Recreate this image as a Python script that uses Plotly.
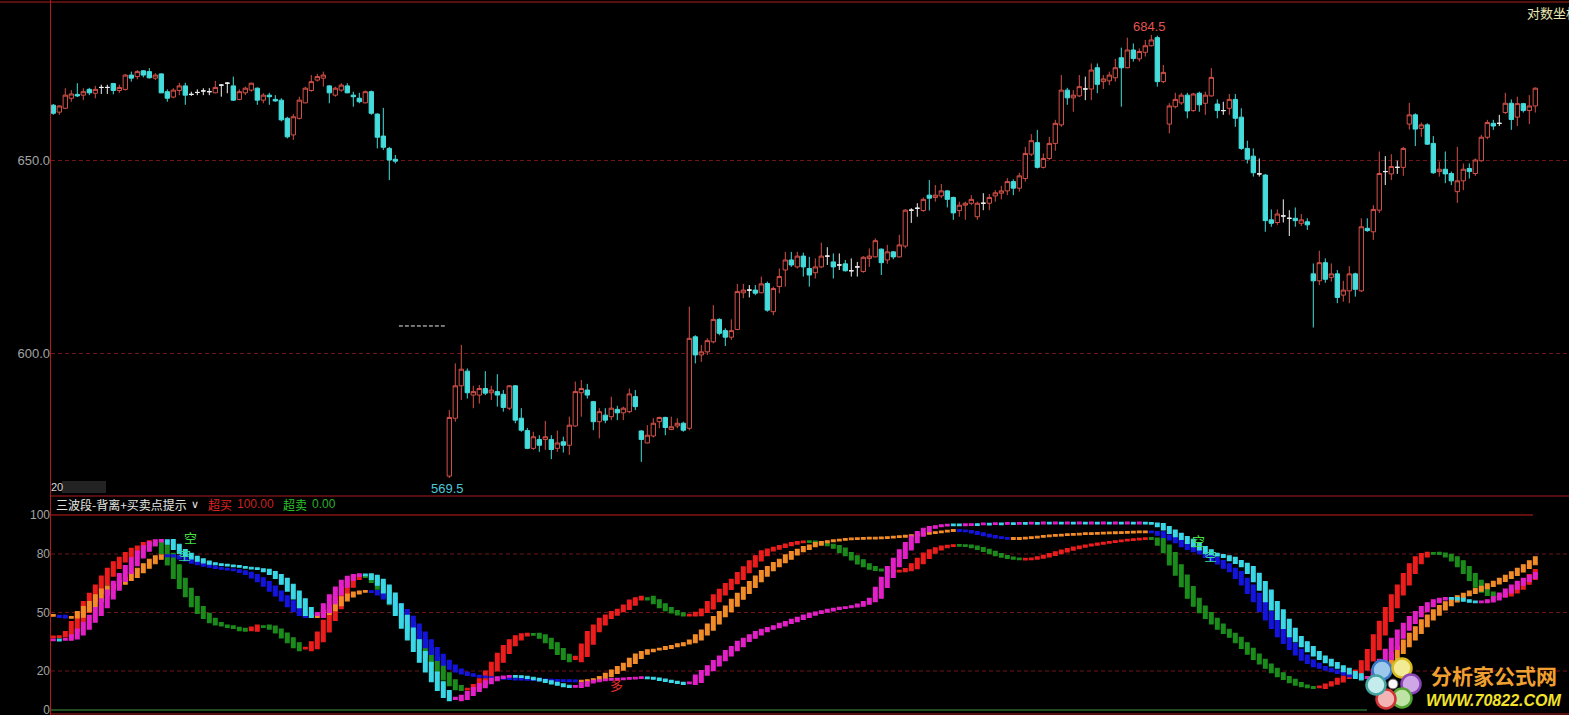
import plotly.graph_objects as go

W, H = 1569, 715
ML = 51
PW = W - ML

# ---------------- data ----------------
OPEN = [664.2,662.4,663.4,666.0,667.0,666.8,668.3,667.3,668.8,668.8,
669.8,668.0,668.3,672.0,671.6,673.1,672.9,671.2,672.3,667.7,
666.3,668.0,669.2,667.0,667.5,667.9,667.7,667.4,669.4,669.9,
669.2,665.7,667.4,668.1,668.6,665.5,666.8,665.7,665.5,660.8,
656.5,660.8,664.8,668.0,670.7,671.2,669.2,666.8,668.1,669.2,
666.8,666.0,664.8,667.7,661.9,656.2,653.0,650.2,
None,None,None,None,None,None,None,None,
568.1,583.1,591.5,595.3,
589.1,589.1,590.8,589.7,590.0,589.3,585.7,591.5,583.1,579.9,
575.3,577.6,577.6,577.6,575.3,577.0,576.1,581.1,589.7,590.4,
587.4,582.2,583.9,583.5,585.4,584.5,584.8,588.7,579.8,576.7,
578.5,582.2,583.3,580.2,581.1,581.8,580.5,604.2,599.5,600.3,
602.9,608.7,605.8,604.1,606.1,615.6,616.3,616.3,615.6,618.0,
610.7,617.2,621.5,624.1,622.3,625.1,621.9,620.8,622.3,625.1,
623.6,622.8,623.1,621.3,622.3,621.1,624.5,624.9,626.9,624.1,
626.2,624.9,627.7,637.0,637.5,636.9,640.9,640.3,640.7,642.0,
640.3,636.9,638.3,638.8,635.3,638.8,638.8,640.7,641.4,642.0,
644.4,642.7,645.2,651.5,654.5,648.1,650.4,654.3,659.1,668.1,
666.1,666.6,668.4,668.4,673.9,670.3,670.5,671.3,676.5,673.9,
678.5,676.2,677.9,679.6,681.7,670.3,659.3,663.8,664.8,666.8,
662.8,667.3,664.7,666.6,664.5,662.8,663.4,665.7,661.1,653.0,
651.0,646.4,646.1,634.5,633.8,635.5,634.9,634.9,633.6,634.0,
620.5,618.7,623.4,619.6,620.5,615.0,616.1,620.5,616.1,632.3,
631.4,637.0,647.0,646.4,648.1,648.1,659.3,661.7,658.2,659.1,
654.3,647.0,647.6,646.5,641.8,644.6,647.8,646.5,649.8,655.9,
659.5,659.5,662.3,664.7,661.1,664.6,662.8,664.0]

HIGH = [664.5,664.2,668.6,668.1,669.9,668.6,668.7,669.2,669.5,669.5,
670.0,669.5,672.3,672.9,673.3,673.3,673.8,672.5,672.5,668.3,
668.6,670.0,670.0,667.7,668.3,668.6,668.6,670.5,669.7,670.2,
671.6,668.3,669.0,670.0,668.8,667.3,667.4,666.8,666.0,661.2,
661.9,666.4,669.0,672.0,672.3,672.9,669.4,669.0,669.9,669.9,
667.7,667.4,668.0,668.0,662.1,663.5,653.4,651.3,
None,None,None,None,None,None,None,None,
585.2,597.3,602.1,596.0,
591.5,591.7,595.3,591.5,594.5,590.4,591.7,591.7,585.7,580.6,
579.6,578.7,582.4,578.7,579.9,578.3,583.5,592.6,593.0,592.0,
587.6,585.7,585.7,588.7,586.3,586.1,590.8,590.4,580.0,581.3,
583.1,583.5,583.5,583.5,583.1,582.2,612.0,604.6,602.1,603.8,
612.4,609.0,606.4,608.7,617.9,617.9,617.6,617.6,619.8,618.5,
617.2,621.9,626.2,626.2,626.2,626.0,624.9,624.5,628.6,627.4,
625.8,625.8,624.1,624.5,623.6,625.1,627.1,629.7,627.1,628.0,
626.4,630.6,637.3,637.5,638.8,640.3,644.8,643.5,643.8,642.2,
640.5,639.2,639.2,640.9,639.2,641.4,641.2,642.2,643.3,645.3,
645.0,646.7,653.4,656.7,657.8,651.7,656.0,660.4,672.0,668.7,
668.1,672.0,671.6,675.0,675.0,672.0,672.9,676.2,679.1,681.7,
680.2,678.9,681.1,682.4,682.2,674.6,664.7,667.4,667.4,667.4,
667.4,667.7,667.7,673.8,665.7,665.1,667.1,667.1,663.4,655.0,
653.0,650.4,646.4,637.2,637.2,639.8,637.0,637.7,636.0,634.9,
623.2,626.5,624.5,623.2,621.5,618.7,622.5,620.8,634.9,634.9,
638.3,652.2,651.0,651.5,649.8,653.4,664.8,662.1,659.7,659.5,
656.2,649.6,652.2,647.0,653.4,649.1,649.1,650.4,656.5,660.4,
660.4,661.7,667.4,665.7,666.4,664.8,666.8,668.8]

LOW = [661.7,661.7,663.2,665.1,666.3,665.5,666.8,666.0,667.1,667.1,
667.0,667.4,668.0,670.3,670.9,671.4,671.1,670.7,667.3,665.1,
666.0,666.8,664.3,666.6,666.8,666.8,666.8,667.3,666.4,667.3,
665.3,665.5,666.8,667.7,664.3,664.7,664.3,665.1,660.0,655.6,
655.2,660.5,664.7,667.7,670.3,669.0,664.7,666.4,667.7,667.3,
663.8,664.7,664.7,661.7,653.0,652.6,644.8,649.1,
None,None,None,None,None,None,None,None,
567.6,582.2,587.8,588.2,
585.7,586.9,589.1,587.8,586.1,584.8,585.2,581.8,579.6,575.1,
574.9,574.4,574.9,572.5,574.4,574.2,573.6,580.9,583.5,588.2,
580.0,577.9,581.8,582.6,582.6,582.6,584.4,585.2,571.8,576.6,
578.1,580.5,578.7,580.0,580.5,579.6,580.0,597.3,597.7,599.5,
602.5,604.6,601.8,603.4,605.9,614.2,614.4,615.0,615.5,610.7,
609.8,615.5,617.2,622.3,621.9,619.8,617.2,619.3,622.0,622.8,
619.3,621.5,621.1,619.8,619.8,620.8,622.3,624.8,620.2,623.1,
624.3,624.8,627.1,633.7,635.3,636.6,636.9,639.2,640.1,637.7,
634.5,635.3,634.5,638.3,634.5,637.0,637.0,639.2,639.8,640.9,
640.9,641.8,644.4,651.0,647.8,647.8,650.0,652.4,658.6,664.3,
662.5,666.3,665.5,665.5,667.3,668.4,669.4,670.3,663.8,673.8,
675.5,675.5,676.8,679.4,669.0,669.9,656.9,663.4,664.3,660.8,
662.5,662.5,661.7,666.4,660.8,661.7,661.7,658.6,652.6,649.1,
645.7,645.7,631.4,632.7,633.2,633.8,630.3,632.7,632.9,631.9,
606.6,617.6,618.2,618.5,612.9,613.3,612.9,614.6,615.8,631.4,
629.3,636.3,643.5,644.8,646.4,645.9,657.9,653.6,656.0,653.9,
646.4,645.7,644.0,643.5,638.9,642.2,645.2,645.9,649.6,655.4,
657.8,658.8,661.9,657.8,658.8,662.3,659.3,662.3]

CLOSE = [662.1,664.0,666.8,667.1,666.6,667.7,667.4,668.3,668.8,668.8,
668.0,668.8,672.0,671.2,672.9,672.0,671.3,672.0,667.4,666.0,
668.1,669.2,666.8,667.0,667.5,667.9,667.7,668.8,669.4,669.9,
665.5,667.7,668.6,669.9,665.5,666.8,666.4,665.3,660.4,656.0,
661.2,665.5,668.6,670.3,671.6,672.0,667.4,668.6,669.4,667.4,
666.4,665.1,667.7,662.1,655.9,653.3,650.0,649.7,
None,None,None,None,None,None,None,None,
583.3,591.5,595.8,589.7,
590.0,590.8,589.6,590.4,589.1,585.9,591.5,582.6,580.0,575.3,
578.3,576.1,578.3,575.0,576.7,576.1,581.3,590.0,590.8,589.1,
582.2,584.8,582.6,585.7,584.5,585.7,589.4,586.1,577.6,578.7,
581.8,583.3,580.7,580.9,581.8,580.0,603.8,599.5,600.3,603.2,
608.7,605.1,604.1,605.8,615.9,616.3,616.3,615.5,617.9,611.1,
616.7,619.8,624.1,622.8,625.1,622.3,620.2,622.3,625.1,625.1,
622.3,622.8,621.3,621.3,622.3,624.8,625.1,629.1,623.4,626.2,
624.9,628.0,637.0,637.0,637.5,639.8,640.1,640.9,642.0,639.8,
636.3,638.3,638.8,639.8,638.8,638.8,640.3,641.5,642.0,644.4,
642.7,645.9,651.7,655.0,648.1,650.4,654.3,659.5,668.1,666.1,
666.8,669.0,668.4,673.3,669.6,671.0,672.0,673.9,673.9,678.5,
676.3,678.1,679.6,681.1,670.3,672.7,664.0,665.7,666.8,662.7,
667.1,664.3,666.8,671.4,662.8,662.8,665.7,660.8,653.0,650.2,
646.7,646.4,634.3,633.6,636.0,635.5,634.9,634.3,634.5,633.2,
618.7,623.4,619.1,620.5,614.4,616.3,620.5,616.5,632.7,631.7,
637.2,646.5,647.0,648.3,648.1,653.0,661.7,658.0,659.1,654.1,
646.7,647.6,646.4,644.6,644.6,647.6,647.0,650.0,655.9,659.7,
658.8,659.5,664.7,660.5,664.6,662.8,664.0,668.6]

# indicator: three wave lines (0-100)
WAVE_FAST = [37.5,37.8,40.2,45.3,50.0,55.6,59.8,64.1,68.7,72.6,
76.0,78.3,80.7,82.9,84.1,85.8,86.8,84.5,80.3,74.4,
67.5,62.4,58.1,53.0,49.6,47.0,44.8,43.6,43.1,42.4,
41.9,40.7,40.5,42.5,43.5,43.0,41.5,39.5,37.0,34.5,
32.0,30.5,31.5,35.0,40.0,46.0,52.0,58.0,63.0,67.0,
69.0,69.5,68.0,65.5,62.0,58.0,54.0,49.5,45.0,40.5,
36.0,31.5,27.0,23.0,19.0,15.5,12.5,10.5,10.0,11.0,
13.0,16.0,20.0,24.5,29.0,33.0,36.0,38.0,39.0,39.3,
38.5,36.8,34.5,31.5,28.5,26.0,24.8,27.5,33.8,40.2,
43.6,47.0,48.7,50.4,51.6,53.8,56.4,57.5,58.3,56.5,
54.5,52.5,51.0,49.8,48.8,48.2,48.4,50.1,51.8,55.6,
59.0,61.9,64.8,67.0,70.5,73.4,76.5,79.1,81.6,82.5,
83.4,84.3,85.1,85.8,86.4,86.6,86.2,85.5,85.0,84.3,
83.0,80.7,79.1,77.0,74.9,73.5,72.2,71.6,71.3,71.1,
71.0,71.4,72.5,75.0,77.8,80.4,82.1,83.2,84.0,84.4,
84.6,84.5,84.0,83.3,82.4,81.3,80.2,79.2,78.4,77.8,
77.4,77.2,77.4,77.9,78.5,79.3,80.2,81.1,82.0,82.8,
83.5,84.1,84.6,85.1,85.6,86.0,86.4,86.8,87.1,87.4,
87.7,87.9,88.1,88.0,84.6,80.7,74.4,69.2,63.3,57.3,
53.3,49.9,47.0,44.1,41.4,39.3,37.3,34.5,31.6,28.7,
26.0,23.6,21.4,19.1,17.1,15.7,14.0,12.8,12.0,11.4,
11.1,12.3,13.3,14.4,16.2,17.4,18.8,20.5,25.2,31.0,
38.5,45.5,52.5,59.0,64.1,70.0,75.0,78.5,80.2,80.8,
80.5,79.8,78.5,76.5,73.5,70.0,66.5,63.0,60.5,58.8,
58.0,58.5,60.0,62.0,64.5,67.0,69.5,72.0]

WAVE_MID = [36.0,35.8,36.5,38.5,41.5,45.0,48.5,52.5,57.0,61.5,
66.0,70.0,74.0,78.0,81.5,84.2,86.2,87.2,87.4,85.0,
82.3,80.3,78.8,77.5,76.3,75.5,74.8,74.5,74.3,74.1,
73.6,73.2,72.8,72.4,72.1,71.0,69.5,67.5,64.5,61.0,
57.0,52.5,48.5,47.5,50.0,54.5,59.0,63.0,66.5,68.5,
69.5,69.8,69.0,67.0,64.0,60.0,54.5,48.5,42.0,36.0,
30.0,24.5,19.5,14.5,10.0,6.5,4.8,5.5,7.5,9.5,
11.5,13.5,15.0,16.2,17.0,17.4,17.5,17.2,16.8,16.2,
15.6,14.9,14.2,13.4,12.7,12.0,11.6,12.2,13.9,14.5,
15.2,15.5,15.6,15.8,16.0,16.2,16.4,16.6,16.8,16.4,
15.8,15.2,14.7,14.2,13.6,13.1,14.2,17.9,20.2,22.6,
25.3,27.7,30.5,32.5,35.2,36.8,38.5,40.2,41.4,42.2,
43.1,44.4,45.3,46.5,47.5,48.7,49.6,50.2,50.8,51.6,
52.1,52.6,52.9,53.3,54.3,55.6,57.3,62.9,68.0,73.5,
77.8,82.1,85.8,89.2,91.5,93.2,94.0,94.4,94.9,95.1,
95.0,94.8,95.0,95.3,95.2,95.5,95.4,95.6,95.5,95.7,
95.6,95.8,95.7,95.9,95.8,95.9,95.8,95.9,95.8,95.9,
95.8,95.9,95.8,95.9,95.8,95.9,95.8,95.9,95.8,95.9,
95.8,95.9,95.8,95.6,94.0,92.3,90.6,88.9,87.5,85.5,
83.8,82.1,80.3,79.7,79.0,78.3,76.6,75.2,73.5,70.1,
65.8,61.5,55.6,51.3,46.5,41.9,37.6,35.0,32.5,29.9,
27.7,26.0,24.3,22.6,21.4,19.7,18.5,16.2,15.5,17.0,
21.0,26.0,31.1,36.8,41.0,44.4,47.9,50.4,53.0,55.0,
56.5,57.3,57.6,57.2,56.5,55.8,55.3,55.0,55.5,56.5,
58.0,60.0,62.0,64.0,66.0,67.5,69.0,70.5]

WAVE_SLOW = [48.5,47.5,47.2,47.6,50.5,53.0,55.6,59.0,62.0,63.5,
64.5,66.5,68.0,70.5,72.7,75.0,77.3,79.0,79.5,79.2,
78.5,77.5,76.5,75.3,74.5,73.8,73.2,72.6,72.2,71.9,
71.4,70.6,69.5,67.8,65.8,63.5,61.0,58.5,56.0,53.0,
50.5,48.5,47.5,47.8,49.0,51.0,53.5,56.0,58.0,59.5,
60.5,61.0,61.2,60.5,59.0,57.0,54.5,51.5,48.0,44.0,
40.0,36.0,32.0,28.5,25.5,23.0,21.0,19.5,18.5,17.8,
17.3,16.9,16.6,16.4,16.2,16.0,15.9,15.8,15.7,15.6,
15.5,15.4,15.3,15.2,15.1,15.0,14.9,14.8,14.8,15.3,
16.0,17.1,18.8,20.5,22.2,23.9,26.5,28.7,29.9,30.8,
31.1,31.6,32.5,33.0,33.9,34.5,35.9,38.5,41.0,44.1,
47.9,50.4,53.3,56.8,59.8,62.9,65.8,68.7,71.5,73.5,
75.6,77.3,79.5,81.2,82.4,83.8,84.6,85.8,86.3,86.8,
87.2,87.5,87.7,87.9,88.0,88.1,88.2,88.3,88.4,88.6,
88.8,89.1,89.4,89.8,90.2,90.6,91.0,91.4,91.8,92.1,
92.3,92.0,91.5,90.8,90.1,89.4,88.8,88.3,88.0,87.8,
87.9,88.1,88.4,88.7,89.0,89.3,89.5,89.7,89.9,90.1,
90.3,90.4,90.5,90.6,90.7,90.8,90.9,91.0,91.1,91.2,
91.3,91.4,91.5,91.4,89.7,88.5,87.2,85.8,83.8,82.4,
81.2,80.0,78.3,76.6,74.9,72.7,71.0,67.5,64.1,59.8,
55.6,50.4,46.2,41.9,37.6,34.2,31.1,28.2,25.6,23.9,
22.2,21.4,20.5,19.7,18.8,18.0,17.1,16.7,16.3,16.5,
18.0,21.5,25.0,29.0,32.5,35.9,39.3,42.7,46.2,48.7,
51.3,53.5,55.5,57.2,58.6,59.8,61.0,62.2,63.4,64.7,
66.0,67.5,69.0,70.8,72.6,74.5,76.5,78.5]

Y_TICKS = [600, 650]
Y2_TICKS = [0, 20, 50, 80, 100]
OVERBOUGHT, OVERSOLD = 100, 0
HIGH_LABEL, LOW_LABEL = "684.5", "569.5"

# ---------------- helpers ----------------
def px(x):
    return (x - ML) / PW

def py(y):
    return 1 - y / H

N = len(CLOSE)
idx = list(range(N))
XR = [-(53.3 - ML) / 6.0, -(53.3 - ML) / 6.0 + PW / 6.0]
P_TOP = 650 + (160 - 2) / 3.86
P_BOT = 650 - (495 - 160) / 3.86
V_TOP = (710 - 513) / 1.95
V_BOT = (710 - 713) / 1.95

fig = go.Figure()

def candles(kind, line_col, fill_col):
    xs = []
    for i in idx:
        if OPEN[i] is None:
            continue
        d = CLOSE[i] - OPEN[i]
        if (kind == 'up' and d > 0) or (kind == 'down' and d < 0) or (kind == 'doji' and d == 0):
            xs.append(i)
    style = dict(line=dict(color=line_col, width=1), fillcolor=fill_col)
    return go.Candlestick(
        x=xs, open=[OPEN[i] for i in xs], high=[HIGH[i] for i in xs],
        low=[LOW[i] for i in xs], close=[CLOSE[i] for i in xs],
        increasing=style, decreasing=style, whiskerwidth=0,
        xaxis='x', yaxis='y', showlegend=False, hoverinfo='skip')

fig.add_trace(candles('up', '#d4524a', '#000000'))
fig.add_trace(candles('down', '#45dcdc', '#45dcdc'))
fig.add_trace(candles('doji', '#f0f0f0', '#f0f0f0'))

def wave(vals, up_col, dn_col):
    base, hgt, cols = [], [], []
    for i in idx:
        a = vals[max(i - 2, 0)]
        b = vals[i]
        prev = vals[max(i - 1, 0)]
        lo, hi = min(a, b), max(a, b)
        if hi - lo < 0.8:
            mid = (hi + lo) / 2
            lo, hi = mid - 0.4, mid + 0.4
        base.append(lo)
        hgt.append(hi - lo)
        cols.append(up_col if b >= prev else dn_col)
    return go.Bar(x=idx, y=hgt, base=base, width=0.62,
                  marker=dict(color=cols, line=dict(color=cols, width=1.2)),
                  xaxis='x2', yaxis='y2', showlegend=False, hoverinfo='skip')

fig.add_trace(wave(WAVE_FAST, '#ee1c1c', '#1b8c1b'))
fig.add_trace(wave(WAVE_SLOW, '#f28c28', '#1414e0'))
fig.add_trace(wave(WAVE_MID, '#e41fc8', '#3ad8e8'))

RED = '#b01c1c'
GRID = '#6e1616'
shapes = []
for v in (20, 50, 80):
    shapes.append(dict(type='line', xref='paper', yref='y2', x0=0, x1=1, y0=v, y1=v,
                       line=dict(color=GRID, width=1, dash='4px,3px'), layer='below'))
shapes += [
    dict(type='line', xref='paper', yref='y2', x0=0, x1=px(1533), y0=OVERBOUGHT, y1=OVERBOUGHT,
         line=dict(color='#c81e1e', width=1)),
    dict(type='line', xref='paper', yref='y2', x0=0, x1=px(1367), y0=OVERSOLD, y1=OVERSOLD,
         line=dict(color='#3c9c3c', width=1.2)),
    dict(type='line', xref='paper', yref='paper', x0=px(50.5), x1=px(50.5), y0=0, y1=1,
         line=dict(color=RED, width=1)),
    dict(type='line', xref='paper', yref='paper', x0=px(0), x1=px(1569), y0=py(2), y1=py(2),
         line=dict(color=RED, width=1)),
    dict(type='line', xref='paper', yref='paper', x0=px(51), x1=px(1569), y0=py(496), y1=py(496),
         line=dict(color=RED, width=1)),
    dict(type='line', xref='paper', yref='paper', x0=px(51), x1=px(1569), y0=py(714), y1=py(714),
         line=dict(color=RED, width=1)),
    dict(type='line', xref='x', yref='y', x0=57.6, x1=65.4, y0=607.0, y1=607.0,
         line=dict(color='#e8e8e8', width=1, dash='4px,2px')),
    dict(type='rect', xref='paper', yref='paper', x0=px(62), x1=px(106), y0=py(493), y1=py(481),
         fillcolor='#2c2c2c', line=dict(width=0), opacity=0.8),
]

# watermark flower
petals = [((1382, 670), '#9cc8ec', '#3a78c8'), ((1402, 668), '#f2ea94', '#d6bc20'),
          ((1411, 684), '#cfa6e6', '#8a44b8'), ((1402, 698), '#bde4a4', '#54a432'),
          ((1386, 699), '#f2b4b4', '#d03434'), ((1376, 685), '#c4ecec', '#44a4a4')]
for (cx, cy), fc, lc in petals:
    r = 9.5
    shapes.append(dict(type='circle', xref='paper', yref='paper', x0=px(cx - r), x1=px(cx + r),
                       y0=py(cy + r), y1=py(cy - r), fillcolor=fc, line=dict(color=lc, width=2.5)))
shapes.append(dict(type='circle', xref='paper', yref='paper', x0=px(1388), x1=px(1398),
                   y0=py(689), y1=py(679), fillcolor='#f8f8f8', line=dict(color='#606060', width=1)))

CJK = 'Noto Sans CJK SC'
def ann(text, x, y, color, size=13, family=CJK, xanchor='left'):
    return dict(text=text, x=px(x), y=py(y), xref='paper', yref='paper', showarrow=False,
                xanchor=xanchor, yanchor='middle', font=dict(family=family, size=size, color=color))

annotations = [
    ann('三波段-背离+买卖点提示', 54, 504, '#e6e6e0', 12),
    ann('∨', 189, 504, '#e6e6e0', 11, 'DejaVu Sans'),
    ann('超买', 206, 504, '#e02424', 12),
    ann('100.00', 235, 504, '#c82222', 12, 'Liberation Sans'),
    ann('超卖', 281, 504, '#2ac42a', 12),
    ann('0.00', 310, 504, '#2cb02c', 12, 'Liberation Sans'),
    ann(HIGH_LABEL, 1149, 27, '#e05454', 13, 'Liberation Sans', 'center'),
    ann(LOW_LABEL, 447, 488, '#4cc8d8', 13, 'Liberation Sans', 'center'),
    ann('对数坐标', 1525, 12, '#e8e8b4', 13),
    ann('20', 49, 487, '#d8d8d8', 11, 'Liberation Sans'),
    ann('空', 190, 537, '#44e044', 13, CJK, 'center'),
    ann('空', 184, 554, '#34d49c', 13, CJK, 'center'),
    ann('空', 1198, 540, '#44e044', 13, CJK, 'center'),
    ann('空', 1210, 555, '#34d49c', 13, CJK, 'center'),
    ann('多', 616, 684, '#e03030', 13, CJK, 'center'),
    ann('<b>分析家公式网</b>', 1494, 675, '#f0a030', 21, CJK, 'center'),
    ann('<b><i>WWW.70822.COM</i></b>', 1494, 700, '#f2e22a', 16, 'Liberation Sans', 'center'),
]

tickfont = dict(family='Liberation Sans, Arial', size=13, color='#a4a4a4')
tickfont2 = dict(family='Liberation Sans, Arial', size=12, color='#a4a4a4')
fig.update_layout(
    width=W, height=H, margin=dict(l=ML, r=0, t=0, b=0, autoexpand=False),
    paper_bgcolor='#000000', plot_bgcolor='#000000',
    barmode='overlay', boxgap=0.15, boxgroupgap=0.15, showlegend=False,
    xaxis=dict(domain=[0, 1], range=XR, visible=False, anchor='y',
               rangeslider=dict(visible=False)),
    xaxis2=dict(domain=[0, 1], range=XR, visible=False, anchor='y2'),
    yaxis=dict(domain=[py(495), py(2)], range=[P_BOT, P_TOP], tickvals=Y_TICKS,
               ticktext=[f'{v:.1f}' for v in Y_TICKS], showgrid=True, gridcolor=GRID,
               griddash='4px,3px', gridwidth=1, zeroline=False, showline=False, ticks='',
               tickfont=tickfont, automargin=False),
    yaxis2=dict(domain=[py(713), py(513)], range=[V_BOT, V_TOP], tickvals=Y2_TICKS,
                ticktext=[str(v) for v in Y2_TICKS], showgrid=False, zeroline=False,
                showline=False, ticks='', tickfont=tickfont2, automargin=False,
                ticklabeloverflow='allow'),
    shapes=shapes, annotations=annotations,
)

fig.write_html('out.html', config={'displayModeBar': False},
               post_script="document.body.style.margin='0';document.body.style.background='#000';"
                           "document.documentElement.style.overflow='hidden';")
